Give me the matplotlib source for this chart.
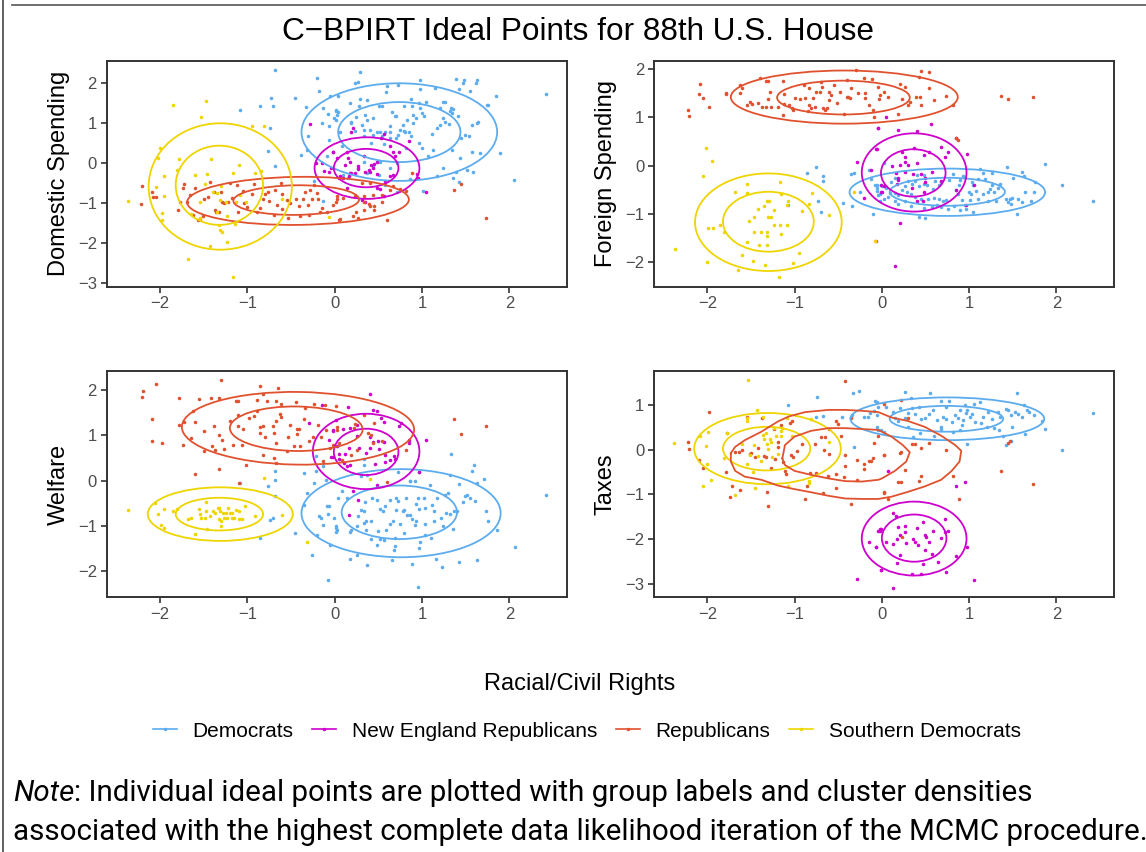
import matplotlib
matplotlib.use("Agg")
import matplotlib.pyplot as plt
from matplotlib.patches import Ellipse
from matplotlib.lines import Line2D

plt.rcParams['font.family'] = ['Liberation Sans', 'DejaVu Sans']

# groups and colours (legend order)
groups = ["Democrats", "New England Republicans", "Republicans", "Southern Democrats"]
colors = ["#5CACEE", "#CD00CD", "#E0522F", "#EED500"]

x_ticks = [-2, -1, 0, 1, 2]
x_range = (-2.61, 2.66)

# ---------------- Domestic Spending ----------------
dom_dem = [(-0.68,2.33),(-0.20,2.13),(-0.18,1.81),(-0.05,1.67),(0.04,1.69),(-0.73,1.64),(-0.45,1.63),(-0.71,1.44),
           (-0.86,1.43),(-1.08,1.33),(-0.33,1.40),(-0.13,1.39),(-0.08,1.23),(0.02,1.31),(0.03,1.21),(-0.14,1.0),
           (-0.06,0.92),(-0.74,0.88),(-0.31,0.69),(-0.06,0.58),(-0.76,0.31),(-0.09,0.17),(-0.68,-0.07),(-0.32,0.33),
           (-0.38,0.21),(-0.13,-0.94),(-0.24,-0.44),(0.02,1.08),
           (0.29,2.29),(0.23,2.0),(0.27,2.04),(0.60,1.92),(0.59,1.79),(0.73,1.96),(0.98,2.08),(0.98,1.85),(1.15,1.88),
           (1.39,2.11),(1.42,1.86),(1.47,2.0),(1.48,2.08),(1.55,1.81),(1.62,2.0),(1.63,2.08),(1.85,1.69),(2.42,1.73),
           (0.17,1.5),(0.29,1.6),(0.37,1.57),(0.28,1.42),(0.51,1.42),(0.54,1.44),(0.02,1.33),(0.04,1.29),(0.35,1.21),
           (0.24,1.15),(0.19,1.04),(0.19,1.0),(0.44,1.13),(0.66,1.29),(0.69,1.17),(0.70,1.18),(0.87,1.6),(0.88,1.42),
           (0.96,1.5),(1.0,1.25),(0.90,1.21),(0.93,1.13),(1.02,1.17),(0.83,1.08),(0.90,1.0),(0.78,0.96),(0.75,0.83),
           (0.79,0.81),(0.81,0.78),(0.85,0.79),(0.87,0.67),(0.73,0.71),(0.63,0.94),(0.52,0.79),(0.58,0.78),(0.48,0.78),
           (0.31,0.96),(0.33,0.83),(0.40,0.83),(0.44,0.71),(0.34,0.68),(0.54,0.67),(0.42,0.5),(0.56,0.48),(0.63,0.63),
           (0.70,0.63),(0.97,0.5),(1.11,0.72),(1.17,0.89),(1.20,0.96),(1.26,1.04),(1.31,0.98),(1.24,1.14),(1.21,1.38),
           (1.24,1.54),(1.26,1.52),(1.32,1.31),(1.33,1.38),(1.34,1.25),(1.35,1.36),(1.41,1.17),(1.49,0.71),(1.54,0.68),
           (1.57,0.96),(1.63,1.0),(1.64,1.04),(1.74,1.46),(1.76,1.46),(1.89,0.26),(1.57,0.29),(1.51,-0.17),(1.58,-0.21),
           (1.13,0.33),(1.07,0.17),(1.0,0.38),(0.82,0.38),(0.71,0.0),(0.63,-0.13),(0.52,0.04),(0.44,-0.08),(0.33,0.03),
           (0.27,-0.13),(0.10,-0.29),(0.15,-0.38),(0.37,-0.25),(0.86,-0.39),(1.17,-0.31),(1.24,-0.13),(1.39,-0.23),
           (1.35,-0.36),(1.42,-0.48),(2.05,-0.42),(1.01,-0.69),(0.71,-0.71),(0.58,-0.54),(0.51,-0.29),(0.08,0.42),
           (0.06,0.79),(-0.01,1.13),(0.37,1.08),(0.23,0.81),(0.63,0.79),(0.98,1.38),(1.05,1.52),(0.79,1.42),(1.34,0.33),
           (1.44,0.13),(1.45,0.63),(1.66,0.25)]
dom_ner = [(-0.28,0.98),(-0.21,0.0),(-0.14,0.0),(-0.12,-0.19),(-0.07,-0.21),(-0.04,-0.11),(-0.02,0.28),(0.03,0.13),
           (0.21,0.89),(0.19,0.78),(0.56,0.74),(0.53,0.64),(0.63,0.44),(0.85,0.56),(0.67,0.28),(0.69,0.17),(0.74,0.29),
           (-0.02,0.29),(0.14,0.29),(0.33,0.17),(0.12,-0.04),(0.15,0.14),(0.18,0.04),(0.27,-0.08),(0.27,-0.14),
           (0.42,-0.04),(0.44,-0.13),(0.40,-0.21),(0.45,-0.03),(0.48,0.04),(0.39,-0.17),(0.17,-0.25),(0.16,-0.33),
           (0.19,-0.25),(0.23,-0.25),(0.05,-0.38),(0.06,-0.32),(0.10,-0.36),(0.35,-0.23),(0.63,-0.31),(0.67,-0.29),
           (0.48,-0.28),(0.58,-0.44),(0.52,-0.64),(0.48,-0.63),(0.56,-0.83),(0.35,-0.96),(0.31,-0.92),(0.14,-0.63),
           (0.94,-0.28),(0.95,-0.36),(1.05,-0.71)]
dom_rep = [(-2.21,-0.57),(-2.22,-1.02),(-2.09,-0.71),(-2.08,-0.85),(-2.05,-0.85),(-1.79,-1.18),(-1.77,-0.98),
           (-1.74,-0.63),(-1.72,-0.53),(-1.69,-0.96),(-1.66,-0.79),(-1.60,-0.63),(-1.62,-1.29),(-1.56,-1.43),
           (-1.54,-1.40),(-1.51,-1.31),(-1.50,-0.90),(-1.43,-0.46),(-1.38,-0.71),(-1.37,-1.17),(-1.36,-1.21),
           (-1.33,-1.21),(-1.30,-0.71),(-1.29,-0.96),(-1.27,-1.0),(-1.22,-0.96),(-1.20,-0.5),(-1.18,-0.86),
           (-1.12,-0.54),(-1.11,-1.21),(-1.05,-0.69),(-1.04,-1.0),(-0.92,-0.53),(-0.89,-1.21),(-0.85,-1.13),
           (-0.82,-0.9),(-0.80,-0.78),(-0.76,-0.71),(-0.70,-1.29),(-0.68,-0.67),(-0.66,-1.04),(-0.61,-0.5),
           (-0.60,-0.78),(-0.55,-0.92),(-0.53,-1.38),(-0.51,-1.0),(-0.44,-0.9),(-0.41,-1.08),(-0.40,-1.33),
           (-0.36,-0.89),(-0.34,-0.71),(-0.29,-1.29),(-0.28,-0.67),(-0.24,-0.54),(-0.26,-0.89),(-0.19,-0.9),
           (-0.17,-1.23),(-0.14,-1.13),(-0.09,-1.21),(-0.02,-1.04),(0.03,-0.89),(0.05,-1.42),
           (0.02,-0.96),(0.03,-0.83),(0.10,-0.88),(0.23,-0.83),(0.24,-1.21),(0.06,-1.40),(0.21,-1.33),(0.27,-1.38),
           (0.33,-0.83),(0.34,-0.96),(0.39,-1.02),(0.41,-1.08),(0.44,-0.79),(0.45,-1.08),(0.54,-0.79),(0.54,-0.96),
           (0.60,-1.41),(0.63,-0.67),(0.67,-0.58),(0.75,-0.65),(0.82,-0.69),(0.88,-0.25),(1.37,-0.67),(1.45,-0.52),
           (1.73,-1.38),(0.31,-0.5),(0.40,-0.5),(0.45,-1.17),(0.33,-1.17),(-0.95,-0.78),(-1.0,-1.1),(-0.6,-1.15),
           (-0.75,-0.95),(-0.3,-1.05),(-1.45,-0.85),(-0.2,-0.75)]
dom_sdem = [(-1.47,1.56),(-1.85,1.46),(-1.53,1.15),(-2.0,0.39),(-2.02,0.14),(-1.78,0.11),(-1.42,0.11),(-1.09,-0.04),
            (-1.95,-0.31),(-1.80,-0.18),(-1.60,-0.29),(-1.46,-0.27),(-1.16,-0.25),(-0.91,-0.25),(-0.84,-0.19),
            (-2.05,-0.6),(-1.95,-0.83),(-1.48,-0.52),(-1.39,-0.71),(-1.35,-0.75),(-1.30,-0.58),(-1.08,-0.79),
            (-1.54,-0.96),(-1.31,-0.93),(-1.24,-0.96),(-1.13,-0.96),(-1.01,-0.96),(-1.64,-1.28),(-1.54,-1.38),
            (-1.35,-1.21),(-1.23,-1.33),(-1.14,-1.53),(-1.33,-1.54),(-1.31,-1.67),(-1.29,-1.73),(-1.23,-1.96),
            (-1.43,-2.07),(-1.68,-2.4),(-1.16,-2.85),(-2.37,-0.94),(-1.98,-1.25),(-1.98,-1.42),(-0.95,0.93),
            (-0.81,0.94),(-0.60,-0.89),(-0.07,-1.35)]
# contours: (centre x, centre y, half width, half height, angle)
dom_dem_cont = [(0.74,0.78,1.12,1.22,0), (0.74,0.78,0.70,0.75,0)]
dom_ner_cont = [(0.37,-0.12,0.60,0.77,0), (0.36,-0.12,0.37,0.48,0)]
dom_rep_cont = [(-0.42,-0.94,1.27,0.60,2), (-0.44,-0.92,0.72,0.37,2)]
dom_sdem_cont = [(-1.31,-0.58,0.82,1.58,0), (-1.32,-0.55,0.50,0.99,0)]

# ---------------- Foreign Spending ----------------
for_dem = [(-0.86,-0.16),(-0.76,-0.02),(-0.67,-0.21),(-0.67,-0.31),(-0.73,-0.73),(-0.70,-0.95),(-1.08,-0.81),
           (-0.45,-0.78),(-0.34,-0.83),(-0.35,-0.18),(-0.32,-0.16),(-0.25,-0.54),(-0.15,-0.09),(-0.12,-0.28),
           (-0.10,-1.01),(-0.08,-0.40),(-0.06,-0.47),(-0.04,-0.61),(-0.02,-0.74),(0.02,0.05),
           (1.43,-0.02),(1.87,0.03),(2.06,-0.39),(2.42,-0.74),(1.61,-0.14),(1.63,-0.21),(1.50,-0.26),(1.75,-0.34),
           (1.13,-0.07),(1.16,-0.16),(1.26,-0.16),(1.10,-0.28),(1.05,-0.41),(1.35,-0.37),(1.33,-0.47),(1.24,-0.49),
           (1.22,-0.54),(1.16,-0.59),(1.42,-0.69),(1.47,-0.68),(1.49,-0.66),(1.56,-0.68),(1.64,-0.54),(1.71,-0.73),
           (1.55,-0.99),(1.48,-0.80),(1.00,-0.54),(1.02,-0.59),(1.01,-0.71),(0.92,-0.72),(0.95,-0.81),(0.96,-0.90),
           (1.05,-0.95),(0.85,-0.50),(0.87,-0.59),(0.88,-0.40),(0.90,-0.30),(0.81,-0.18),(0.77,-0.30),(0.68,-0.33),
           (0.65,-0.41),(0.61,-0.32),(0.59,-0.48),(0.50,-0.26),(0.52,-0.39),(0.48,-0.37),(0.42,-0.43),(0.38,-0.32),
           (0.34,-0.37),(0.30,-0.32),(0.26,-0.43),(0.23,-0.50),(0.19,-0.61),(0.15,-0.57),(0.09,-0.57),(0.07,-0.64),
           (0.03,-0.68),(-0.02,-0.59),(-0.05,-0.52),(-0.06,-0.40),(0.0,-0.43),(0.05,-0.46),(0.29,-0.54),(0.33,-0.59),
           (0.38,-0.64),(0.45,-0.69),(0.53,-0.69),(0.60,-0.66),(0.66,-0.69),(0.70,-0.74),(0.74,-0.71),(0.63,-0.81),
           (0.57,-0.85),(0.48,-0.88),(0.42,-1.06),(0.49,-1.08),(0.33,-0.83),(0.26,-0.74),(0.19,-0.80),(0.15,-0.74),
           (0.83,-0.83),(0.76,-0.90),(0.68,-0.85),(0.90,-0.92),(1.08,-0.52),(1.10,-0.68),(1.22,-0.74),(1.31,-0.73),
           (1.29,-0.55),(1.45,-0.76),(1.60,-0.76),(1.74,-0.55),(1.26,-0.41),(1.03,-0.33),(0.93,-0.21),(1.18,-0.28),
           (0.48,-0.19),(0.40,-0.19),(0.15,-0.25),(0.11,-0.33),(-0.01,-0.41)]
for_ner = [(-0.04,0.79),(-0.07,0.34),(-0.29,0.08),(-0.12,-0.09),(-0.20,-0.66),(-0.01,-0.54),(0.03,-0.43),
           (0.05,1.01),(-0.04,0.79),(0.18,0.73),(0.40,0.72),(0.56,0.86),(0.85,0.58),(-0.06,0.34),(0.37,0.37),
           (0.48,0.22),(0.68,0.38),(0.76,0.28),(0.72,0.19),(0.54,0.29),(0.27,0.19),(0.23,0.29),(0.27,0.08),
           (0.30,0.01),(0.40,0.05),(0.21,0.01),(0.12,0.0),(0.16,-0.16),(0.19,-0.25),(0.19,-0.30),(0.27,-0.14),
           (0.36,-0.18),(0.45,-0.18),(0.49,-0.25),(0.57,-0.14),(0.50,-0.33),(0.68,-0.32),(0.48,-0.55),(0.35,-0.47),
           (0.17,-0.37),(-0.01,-0.40),(0.0,-0.54),(0.47,-0.74),(0.85,-0.50),(0.96,-0.81),(1.06,-0.41),(0.97,0.24),
           (0.21,-1.19),(0.15,-2.07),(0.40,-0.74)]
for_rep = [(-2.08,1.70),(-2.09,1.48),(-2.05,1.41),(-1.98,1.21),(-2.22,1.15),(-2.21,1.03),(-1.79,1.50),(-1.78,1.48),
           (-1.63,1.68),(-1.60,1.60),(-1.62,1.50),(-1.55,1.26),(-1.51,1.32),(-1.49,1.27),(-1.42,1.30),(-1.40,1.82),
           (-1.37,1.22),(-1.33,1.22),(-1.33,1.75),(-1.30,1.75),(-1.30,1.38),(-1.28,1.53),(-1.27,1.21),(-1.19,1.22),
           (-1.13,1.05),(-1.12,1.48),(-1.12,1.27),(-1.06,1.26),(-1.03,1.20),(-1.02,1.15),(-1.0,1.41),(-0.94,1.38),
           (-0.89,1.68),(-0.88,1.41),(-0.84,1.61),(-0.83,1.26),(-0.81,1.19),(-0.79,1.41),(-0.77,1.22),(-0.75,1.52),
           (-0.71,1.52),(-0.70,1.74),(-0.69,1.63),(-0.67,1.20),(-0.65,1.15),(-0.63,1.20),(-0.61,1.53),(-0.60,1.36),
           (-0.55,1.67),(-0.51,1.29),(-0.48,1.53),(-0.43,1.06),(-0.40,1.77),(-0.40,1.43),(-0.39,1.43),(-0.37,1.41),
           (-0.35,1.60),(-0.30,1.98),(-0.27,1.51),(-0.21,1.81),(-0.19,1.51),(-0.19,1.41),(-0.15,1.26),(-0.11,1.79),
           (-0.10,1.15),(-0.09,1.01),(-0.04,1.63),(-0.02,1.46),(-1.13,1.75),(-0.85,1.14),(-0.58,1.46),
           (0.45,1.96),(0.54,1.93),(0.42,1.83),(0.21,1.69),(0.26,1.63),(0.03,1.52),(0.07,1.43),(0.23,1.39),(0.39,1.43),
           (0.44,1.43),(0.32,1.32),(0.30,1.26),(0.45,1.25),(0.60,1.36),(0.74,1.44),(0.82,1.26),(0.54,1.60),(0.19,1.06),
           (-0.03,1.39),(1.37,1.44),(1.45,1.39),(1.73,1.43),(0.87,0.53),(0.85,0.58),(-0.07,-1.55)]
for_sdem = [(-2.02,0.37),(-1.95,0.09),(-2.05,-0.22),(-1.54,-0.38),(-1.54,-0.56),(-1.68,-0.54),(-1.17,-0.33),
            (-1.15,-0.59),(-1.32,-0.74),(-1.29,-0.74),(-1.35,-0.84),(-1.42,-0.90),(-1.23,-0.92),(-1.07,-0.73),
            (-1.09,-0.81),(-0.91,-0.94),(-0.84,-0.79),(-0.80,-0.57),(-1.46,-1.06),(-1.30,-1.06),(-1.27,-1.06),
            (-1.52,-1.14),(-1.99,-1.28),(-1.94,-1.28),(-1.85,-1.23),(-1.81,-1.38),(-1.46,-1.37),(-1.39,-1.38),
            (-1.32,-1.37),(-1.32,-1.46),(-1.23,-1.23),(-1.17,-1.23),(-1.09,-1.23),(-1.15,-1.42),(-1.55,-1.57),
            (-1.41,-1.64),(-1.31,-1.64),(-2.37,-1.73),(-1.60,-1.85),(-1.48,-1.97),(-2.0,-1.99),(-1.65,-2.16),
            (-1.34,-2.06),(-1.18,-2.30),(-1.02,-2.01),(-0.95,-1.81),(-0.60,-1.03),(-0.32,-0.54),(-0.08,-1.55)]
for_dem_cont = [(0.75,-0.55,1.12,0.49,0), (0.75,-0.54,0.66,0.29,0)]
for_ner_cont = [(0.37,-0.14,0.60,0.81,0), (0.36,-0.15,0.37,0.49,0)]
for_rep_cont = [(-0.43,1.42,1.30,0.55,0), (-0.44,1.41,0.76,0.35,0)]
for_sdem_cont = [(-1.30,-1.17,0.84,1.01,0), (-1.30,-1.16,0.52,0.62,0)]

# ---------------- Welfare ----------------
wel_dem = [(-0.68,0.21),(-0.68,0.01),(-0.76,-0.13),(-1.08,-0.06),(-0.68,-0.34),(-0.74,-0.87),(-0.71,-0.83),
           (-0.86,-1.26),(-0.45,-1.16),(-0.35,0.16),(-0.32,-0.28),(-0.35,-0.54),(-0.21,0.53),(-0.13,0.31),
           (-0.10,0.01),(0.04,-0.39),(-0.18,-0.79),(-0.16,-0.83),(-0.09,-0.57),(-0.07,-0.57),(-0.08,-0.74),
           (-0.13,-0.99),(0.02,-1.01),(0.03,-1.09),(-0.20,-1.20),(-0.05,-1.42),(-0.26,-1.64),(-0.08,-2.19),
           (-0.21,0.20),(-0.24,-0.06),
           (0.34,0.47),(0.33,0.35),(0.30,0.09),(0.37,0.12),(0.73,0.18),(0.86,-0.02),(0.92,-0.02),(0.97,0.18),
           (1.09,-0.11),(1.33,0.58),(1.57,0.20),(1.60,0.35),(1.71,0.04),(1.63,-0.06),(1.42,-0.07),(1.32,0.13),
           (1.30,-0.28),(1.26,-0.33),(1.49,-0.35),(1.51,-0.32),(1.47,-0.48),(1.55,-0.38),(1.61,-0.46),(1.73,-0.67),
           (1.75,-0.89),(1.86,-1.10),(2.06,-1.46),(2.42,-0.32),(1.63,-1.74),(1.42,-1.79),(1.23,-1.90),(1.16,-1.73),
           (0.95,-2.35),(0.89,-1.84),(0.66,-1.74),(0.37,-1.86),(0.25,-1.63),(0.18,-1.73),(0.48,-1.42),(0.69,-1.44),
           (0.68,-1.53),(0.42,-1.29),(0.52,-1.29),(0.56,-1.31),(0.96,-1.49),(0.98,-1.35),(1.03,-1.20),(1.10,-1.26),
           (1.24,-1.01),(1.35,-1.07),(0.02,-1.04),(0.02,-1.13),(0.18,-1.13),(0.19,-1.09),(0.25,-1.01),(0.33,-0.94),
           (0.42,-0.90),(0.36,-1.09),(0.50,-1.11),(0.59,-1.09),(0.63,-0.96),(0.67,-0.89),(0.75,-0.96),(0.89,-0.85),
           (0.93,-0.90),(0.92,-0.98),(1.03,-0.96),(1.22,-0.82),(1.28,-0.72),(1.37,-0.67),(1.40,-0.68),(1.32,-0.74),
           (0.33,-0.68),(0.30,-0.66),(0.27,-0.79),(0.36,-0.90),(0.52,-0.63),(0.55,-0.68),(0.70,-0.65),(0.78,-0.67),
           (0.79,-0.65),(0.83,-0.77),(0.86,-0.76),(0.97,-0.63),(1.03,-0.61),(1.14,-0.67),(1.11,-0.54),(1.17,-0.38),
           (1.02,-0.38),(0.93,-0.52),(0.95,-0.38),(0.82,-0.38),(0.73,-0.45),(0.70,-0.39),(0.63,-0.43),(0.58,-0.57),
           (0.48,-0.43),(0.43,-0.38),(0.35,-0.48),(0.14,-0.39),(0.08,-0.23),(-0.01,-0.82),(0.86,-0.01),(1.14,-0.89),
           (0.79,-1.16),(0.69,-1.27)]
wel_ner = [(-0.15,1.67),(-0.29,1.26),(-0.06,0.90),(-0.04,0.51),(-0.02,1.12),(0.03,0.75),(0.05,0.58),
           (0.40,1.90),(0.15,1.61),(0.44,1.56),(0.49,1.54),(0.53,1.38),(0.56,1.29),(0.74,1.19),(0.76,1.26),
           (-0.02,1.10),(0.10,1.14),(0.18,1.15),(0.26,0.99),(0.28,0.72),(0.40,0.95),(0.44,0.84),(0.50,0.86),
           (0.56,0.85),(0.40,0.72),(0.36,0.60),(0.51,0.70),(0.58,0.56),(0.68,0.53),(0.69,0.48),(0.63,0.46),
           (0.58,0.40),(0.46,0.36),(0.16,0.71),(0.12,0.58),(0.11,0.38),(0.14,0.31),(0.17,0.35),(-0.02,0.51),
           (0.05,0.47),(0.85,0.90),(0.85,0.82),(1.05,0.90),(0.97,0.19),(0.21,-0.24),(0.27,-0.43),(0.16,-0.76),
           (0.48,-0.10),(0.25,1.23),(0.02,1.34)]
wel_rep = [(-2.05,2.13),(-2.20,1.98),(-2.21,1.84),(-1.78,1.82),(-1.55,1.80),(-1.42,1.82),(-1.32,1.82),(-1.30,2.21),
           (-1.13,1.76),(-1.11,1.74),(-0.89,1.77),(-0.85,2.09),(-0.82,1.90),(-0.65,2.03),(-0.77,1.76),(-0.67,1.76),
           (-0.61,1.68),(-0.44,1.73),(-0.34,1.60),(-0.24,1.68),(-0.11,1.67),(-2.09,1.36),(-1.78,1.23),(-1.73,1.29),
           (-1.62,1.54),(-1.60,1.29),(-1.50,1.08),(-2.09,0.86),(-1.98,0.82),(-1.74,0.79),(-1.64,0.93),(-1.50,0.65),
           (-1.40,0.75),(-1.37,0.68),(-1.38,1.21),(-1.32,1.01),(-1.29,0.90),(-1.27,0.69),(-1.20,1.32),(-1.16,0.79),
           (-1.11,1.21),(-1.11,1.45),(-1.06,0.79),(-1.05,1.14),(-1.02,0.35),(-0.98,1.38),(-0.92,1.41),(-0.89,1.54),
           (-0.85,1.17),(-0.82,1.19),(-0.86,1.04),(-0.80,0.95),(-0.82,0.57),(-0.70,1.04),(-0.71,1.21),(-0.67,0.82),
           (-0.67,1.32),(-0.63,1.46),(-0.61,1.40),(-0.55,0.65),(-0.54,0.95),(-0.51,1.23),(-0.47,0.77),(-0.43,1.14),
           (-0.41,1.14),(-0.43,1.02),(-0.40,0.77),(-0.35,1.35),(-0.29,0.86),(-0.25,0.95),(-0.19,1.23),(-0.16,0.95),
           (-0.13,0.42),(-0.10,1.12),(-0.05,0.71),(-0.02,0.79),(0.03,1.17),(-0.67,0.39),(-0.69,0.49),(-1.32,0.25),
           (-1.60,0.15),(-1.10,-0.06),
           (0.02,1.65),(0.03,1.12),(0.22,1.15),(0.23,1.24),(0.33,1.45),(0.45,1.26),(0.38,1.04),(0.42,1.01),(0.44,0.82),
           (0.54,0.86),(0.19,0.57),(0.08,0.46),(0.05,0.82),(0.82,0.67),(0.60,-0.04),(1.37,1.36),(1.73,1.21),(1.45,1.03),
           (0.25,0.68)]
wel_sdem = [(-2.37,-0.66),(-2.06,-0.50),(-2.02,-0.74),(-1.99,-0.98),(-1.95,-1.05),(-1.95,-0.63),(-1.85,-0.67),
            (-1.80,-0.63),(-1.68,-0.85),(-1.64,-0.82),(-1.60,-1.18),(-1.55,-0.63),(-1.54,-0.74),(-1.53,-0.82),
            (-1.49,-0.83),(-1.47,-0.48),(-1.46,-1.07),(-1.43,-0.79),(-1.39,-0.68),(-1.37,-0.72),(-1.34,-0.61),
            (-1.33,-0.85),(-1.32,-0.60),(-1.31,-0.67),(-1.30,-1.01),(-1.28,-0.72),(-1.27,-0.82),(-1.24,-0.72),
            (-1.23,-0.82),(-1.22,-0.60),(-1.20,-0.72),(-1.17,-0.82),(-1.15,-0.83),(-1.17,-0.72),(-1.13,-0.65),
            (-1.09,-0.68),(-1.09,-0.85),(-1.06,-0.85),(-1.03,-0.57),(-0.91,-0.79),(-0.60,-0.76),(-0.81,0.05),
            (-0.32,-1.36),(-1.47,-0.68),(-1.30,-0.90),(0.40,0.03)]
wel_dem_cont = [(0.76,-0.72,1.14,0.97,0), (0.74,-0.70,0.66,0.59,0)]
wel_ner_cont = [(0.36,0.64,0.61,0.83,0), (0.36,0.63,0.37,0.51,0)]
wel_rep_cont = [(-0.42,1.15,1.33,0.80,-2), (-0.44,1.14,0.76,0.49,-2)]
wel_sdem_cont = [(-1.31,-0.74,0.83,0.59,0), (-1.32,-0.74,0.50,0.36,0)]

# ---------------- Taxes ----------------
tax_dem = [(-1.08,1.01),(-0.74,1.20),(-0.33,1.27),(-0.26,1.33),(-0.76,0.75),(-0.67,0.77),(-0.46,0.75),(-0.34,0.79),
           (-0.32,0.07),(-0.20,0.75),(-0.16,0.75),(-0.13,0.84),(-0.09,0.88),(-0.06,1.07),(-0.04,0.97),(-0.06,0.52),
           (-0.01,0.45),
           (0.26,1.31),(0.55,1.27),(1.55,1.27),(2.42,0.82),(2.06,0.0),(1.87,0.47),(1.83,0.65),(1.63,1.01),(1.69,0.85),
           (1.56,0.80),(1.52,0.86),(1.60,0.73),(1.64,0.35),(1.48,0.20),(1.42,0.11),(1.49,0.52),(1.42,0.92),(1.44,0.90),
           (1.33,0.85),(1.35,0.75),(1.34,0.45),(1.39,0.32),(1.26,0.70),(1.22,0.86),(1.16,0.75),(1.12,1.07),(1.06,1.03),
           (1.03,0.80),(1.01,0.73),(1.07,0.62),(0.97,0.90),(0.96,0.82),(0.93,0.67),(0.92,0.55),(0.87,0.71),(0.84,0.79),
           (0.80,0.62),(0.77,1.10),(0.68,1.10),(0.70,0.75),(0.68,0.52),(0.74,0.70),(0.63,0.67),(0.59,0.90),(0.54,0.80),
           (0.49,0.71),(0.45,0.70),(0.42,0.97),(0.38,0.80),(0.34,0.94),(0.33,1.16),(0.30,0.82),(0.26,0.71),(0.21,0.94),
           (0.18,0.64),(0.15,0.71),(0.13,0.86),(0.05,0.97),(-0.08,1.09),(-0.06,0.79),(-0.04,0.45),(0.03,0.41),
           (0.30,0.52),(0.36,0.30),(0.44,0.37),(0.60,0.32),(0.68,0.47),(0.97,0.13),(0.89,0.45),(0.81,0.41),(1.14,0.60),
           (1.20,0.52),(1.29,0.49),(1.48,0.79),(1.74,0.79),(1.66,0.90),(0.95,1.01),(0.89,0.90),(0.74,0.97)]
tax_ner = [(-0.29,-2.89),(-0.15,-2.07),(-0.07,-2.19),(-0.04,-1.82),(-0.02,-1.78),(-0.01,-2.70),
           (0.85,-0.80),(0.95,-0.73),(0.72,-1.55),(0.76,-1.81),(0.85,-2.38),(0.97,-2.17),(1.06,-2.92),(0.13,-3.09),
           (0.74,-2.75),(0.45,-2.79),(0.35,-2.79),(0.64,-2.51),(0.47,-2.57),(0.58,-2.34),(0.17,-2.53),(-0.01,-2.70),
           (0.21,-2.36),(0.13,-1.41),(0.16,-1.48),(0.47,-1.61),(0.26,-1.70),(0.19,-1.72),(0.40,-1.76),(0.27,-1.85),
           (-0.02,-1.82),(-0.01,-1.78),(0.21,-1.91),(0.17,-1.99),(0.13,-2.12),(0.05,-2.06),(0.36,-1.99),(0.38,-2.06),
           (0.41,-2.13),(0.49,-1.90),(0.51,-1.95),(0.54,-2.06),(0.59,-1.82),(0.72,-1.85),(0.68,-1.97),(0.49,-2.25),
           (0.28,-2.10),(-0.07,-2.19),(0.07,-0.47)]
tax_rep = [(-1.98,0.85),(-2.22,0.17),(-2.21,0.02),(-2.10,-0.22),(-2.05,-0.41),(-1.77,0.37),(-1.79,-0.49),
           (-1.72,-0.80),(-1.74,-1.06),(-1.62,-0.90),(-1.64,-0.05),(-1.60,-0.01),(-1.51,-0.10),(-1.50,-0.07),
           (-1.55,0.73),(-1.42,0.05),(-1.37,0.71),(-1.35,-0.13),(-1.33,-0.15),(-1.32,-0.95),(-1.30,-1.25),
           (-1.27,-0.41),(-1.23,0.47),(-1.22,-0.20),(-1.19,0.17),(-1.19,0.06),(-1.15,0.56),(-1.13,-0.28),
           (-1.11,-0.47),(-1.10,-0.55),(-1.05,0.60),(-1.04,-0.11),(-1.02,-0.15),(-0.97,-0.02),(-0.92,0.13),
           (-0.88,-1.10),(-0.86,-0.80),(-0.82,-0.51),(-0.77,0.13),(-0.75,-0.51),(-0.70,0.30),(-0.67,-0.97),
           (-0.66,0.0),(-0.65,0.28),(-0.62,-0.58),(-0.60,-0.10),(-0.60,0.46),(-0.53,-0.86),(-0.52,-0.53),
           (-0.52,0.64),(-0.50,0.58),(-0.47,0.32),(-0.43,-0.60),(-0.42,1.55),(-0.42,-0.11),(-0.42,-0.37),
           (-0.35,-1.22),(-0.35,0.71),(-0.29,-0.67),(-0.28,-0.22),(-0.21,-0.43),(-0.20,-0.32),(-0.15,-0.25),
           (-0.12,-0.25),(-0.10,-0.17),(-0.09,0.15),(-0.04,0.32),(0.03,-0.11),(0.03,-0.95),(-1.45,-0.15),
           (-1.68,-0.04),(-1.03,0.64),
           (0.22,1.12),(0.03,1.03),(0.30,0.71),(0.34,0.13),(0.38,0.13),(0.45,0.04),(0.54,0.15),(0.74,0.0),(0.03,-0.11),
           (0.21,-0.07),(0.22,-0.05),(0.26,-0.45),(0.19,-0.71),(0.22,-0.71),(0.42,-0.70),(0.45,-0.58),(0.82,-0.58),
           (0.03,-0.97),(0.07,-1.10),(0.88,-1.11),(1.37,-0.47),(1.73,-0.77),(1.45,0.15),(1.47,0.19),(0.23,-1.95)]
tax_sdem = [(-1.53,1.57),(-1.43,0.90),(-1.99,0.41),(-2.08,0.32),(-2.38,0.16),(-2.02,0.10),(-2.0,-0.32),
            (-1.96,-0.68),(-2.05,-0.82),(-1.68,-1.01),(-1.77,0.39),(-1.81,-0.19),(-1.60,0.13),(-1.55,0.71),
            (-1.54,0.65),(-1.51,-0.11),(-1.55,-0.32),(-1.48,-0.49),(-1.45,-0.85),(-1.42,-0.13),(-1.39,-0.25),
            (-1.35,0.25),(-1.36,0.34),(-1.33,0.37),(-1.32,0.13),(-1.30,0.02),(-1.28,0.25),(-1.27,0.17),(-1.26,-0.15),
            (-1.23,0.49),(-1.21,0.32),(-1.19,-0.10),(-1.16,0.43),(-1.16,0.32),(-1.14,0.49),(-1.09,0.71),(-1.03,0.32),
            (-1.36,0.73),(-1.07,-0.80),(-0.84,-0.70),(-0.81,0.70),(-0.60,0.17),(-0.84,-0.75),(-1.47,0.11)]
tax_dem_cont = [(0.75,0.70,1.11,0.48,0), (0.74,0.70,0.65,0.29,0)]
tax_ner_cont = [(0.37,-1.99,0.60,0.83,0), (0.37,-1.98,0.37,0.53,0)]
tax_sdem_cont = [(-1.31,0.03,0.84,0.80,0), (-1.32,0.03,0.50,0.49,0)]
# Republican tax-dimension density is not elliptical: outline
tax_rep_outer_x = [-1.73,-1.68,-1.57,-1.38,-1.19,-1.07,-0.88,-0.61,-0.42,-0.23,-0.04,0.11,0.30,0.49,0.68,0.84,
                   0.91,0.89,0.80,0.68,0.49,0.30,0.11,-0.04,-0.23,-0.42,-0.61,-0.81,-1.0,-1.19,-1.38,-1.57,-1.68,-1.73]
tax_rep_outer_y = [-0.07,0.07,0.22,0.41,0.64,0.75,0.85,0.90,0.90,0.88,0.85,0.73,0.65,0.52,0.32,0.11,
                   -0.02,-0.26,-0.47,-0.67,-0.82,-0.94,-1.05,-1.10,-1.10,-1.09,-1.03,-0.95,-0.88,-0.80,-0.67,-0.60,-0.47,-0.26]
tax_rep_inner_x = [-1.14,-1.11,-1.0,-0.81,-0.61,-0.42,-0.23,-0.04,0.11,0.24,0.32,0.28,0.15,0.0,-0.04,-0.23,
                   -0.42,-0.61,-0.81,-1.0,-1.11]
tax_rep_inner_y = [-0.19,0.11,0.30,0.43,0.49,0.49,0.47,0.45,0.30,0.11,-0.05,-0.26,-0.47,-0.64,-0.67,-0.71,
                   -0.70,-0.64,-0.56,-0.47,-0.34]

panels = [
    ("Domestic Spending", [dom_dem, dom_ner, dom_rep, dom_sdem],
     [dom_dem_cont, dom_ner_cont, dom_rep_cont, dom_sdem_cont], (-3.085, 2.565), [-3, -2, -1, 0, 1, 2],
     [0.0931, 0.6635, 0.4017, 0.2653]),
    ("Foreign Spending", [for_dem, for_ner, for_rep, for_sdem],
     [for_dem_cont, for_ner_cont, for_rep_cont, for_sdem_cont], (-2.505, 2.174), [-2, -1, 0, 1, 2],
     [0.5707, 0.6635, 0.4014, 0.2653]),
    ("Welfare", [wel_dem, wel_ner, wel_rep, wel_sdem],
     [wel_dem_cont, wel_ner_cont, wel_rep_cont, wel_sdem_cont], (-2.573, 2.418), [-2, -1, 0, 1, 2],
     [0.0931, 0.2989, 0.4017, 0.2660]),
    ("Taxes", [tax_dem, tax_ner, tax_rep, tax_sdem],
     [tax_dem_cont, tax_ner_cont, None, tax_sdem_cont], (-3.31, 1.78), [-3, -2, -1, 0, 1],
     [0.5707, 0.2989, 0.4014, 0.2660]),
]

fig = plt.figure(figsize=(11.46, 8.52), dpi=100)

for ylab, pts, conts, ylim, yticks, rect in panels:
    ax = fig.add_axes(rect)
    for g in range(4):
        xs = [p[0] for p in pts[g]]
        ys = [p[1] for p in pts[g]]
        ax.scatter(xs, ys, s=6.5, color=colors[g], linewidths=0, zorder=2)
    for g in range(4):
        if conts[g] is None:
            continue
        for cx, cy, hw, hh, ang in conts[g]:
            ax.add_patch(Ellipse((cx, cy), 2 * hw, 2 * hh, angle=ang, fill=False,
                                 ec=colors[g], lw=1.3, zorder=3))
    if ylab == "Taxes":
        ax.plot(tax_rep_outer_x + tax_rep_outer_x[:1], tax_rep_outer_y + tax_rep_outer_y[:1],
                color=colors[2], lw=1.3, zorder=3)
        ax.plot(tax_rep_inner_x + tax_rep_inner_x[:1], tax_rep_inner_y + tax_rep_inner_y[:1],
                color=colors[2], lw=1.3, zorder=3)
    ax.set_xlim(*x_range)
    ax.set_ylim(*ylim)
    ax.set_xticks(x_ticks)
    ax.set_yticks(yticks)
    ax.tick_params(colors="#333333", labelcolor="#4D4D4D", labelsize=12, length=4, width=1.2, pad=3)
    for sp in ax.spines.values():
        sp.set_color("#333333")
        sp.set_linewidth(1.4)
    ax.set_ylabel(ylab, fontsize=17, labelpad=6)

fig.suptitle("C\u2212BPIRT Ideal Points for 88th U.S. House", x=0.504, y=0.962, va="center", fontsize=22.7)
fig.text(0.506, 0.197, "Racial/Civil Rights", ha="center", va="center", fontsize=17)

handles = [Line2D([], [], color=c, lw=1.2, marker="o", markersize=1.5) for c in colors]
fig.legend(handles, groups, loc="center", bbox_to_anchor=(0.512, 0.142), ncol=4, frameon=False,
           fontsize=15, handlelength=1.15, handletextpad=0.75, columnspacing=0.9)

# frame lines of the figure box
fig.add_artist(Line2D([12 / 1146, 1.0], [1 - 5 / 852, 1 - 5 / 852], color="#555555", lw=1.2,
                      transform=fig.transFigure))
fig.add_artist(Line2D([3 / 1146, 3 / 1146], [1.0, 0.0], color="#444444", lw=1.2,
                      transform=fig.transFigure))

# note below the figure, fitted to the page width
note_font = ["Liberation Sans Narrow", "Roboto", "DejaVu Sans"]
note2 = "associated with the highest complete data likelihood iteration of the MCMC procedure."
fs = 20
renderer = fig.canvas.get_renderer()
probe = fig.text(0, 0, note2, fontsize=fs, family=note_font)
w = probe.get_window_extent(renderer).width
probe.remove()
fs = fs * 1130 / w
t1 = fig.text(13 / 1146, 1 - 793 / 852, "Note", style="italic", fontsize=fs, family=note_font, va="center")
x1 = t1.get_window_extent(renderer).x1
fig.text(x1 / 1146, 1 - 793 / 852, ": Individual ideal points are plotted with group labels and cluster densities",
         fontsize=fs, family=note_font, va="center")
fig.text(13 / 1146, 1 - 832 / 852, note2, fontsize=fs, family=note_font, va="center")

fig.savefig("out.png", dpi=100)
